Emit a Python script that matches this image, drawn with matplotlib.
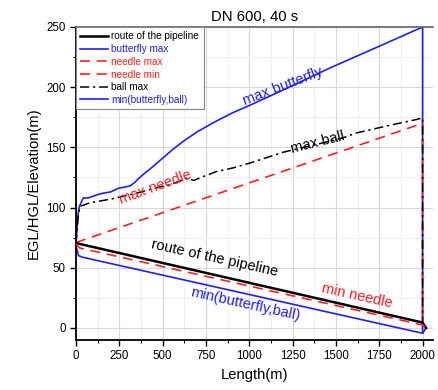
import matplotlib.pyplot as plt
import numpy as np
from matplotlib.ticker import MultipleLocator

plt.rcParams['font.family'] = ['Liberation Sans', 'DejaVu Sans']

# pipeline route (elevation)
route_x = [0, 2000, 2020]
route_y = [70.5, 4.5, 0]

# butterfly valve, max head envelope
bf_max_x = [0, 12, 20, 42, 70, 100, 130, 158, 200, 244, 280, 312, 340, 360, 400,
            427, 500, 560, 619, 700, 812, 900, 1004, 1200, 1466, 1750, 2000, 2000]
bf_max_y = [70, 95, 101, 108, 108, 109.5, 111, 112, 113, 116, 117, 118, 121, 124, 129,
            132, 141, 148.5, 155, 163, 172, 178.5, 185, 198, 216, 234, 250, -4]

# needle valve, max and min envelopes
nd_max_x = [0, 2000, 2000]
nd_max_y = [71, 170, 3]
nd_min_x = [0, 20, 2000, 2020]
nd_min_y = [70, 66.5, 2.5, 0]

# ball valve, max envelope
ball_x = [0, 12, 23, 81, 200, 350, 427, 480, 542, 600, 640, 680, 715, 812, 908,
          1004, 1196, 1389, 1542, 1619, 1800, 1927, 1960, 2000, 2000]
ball_y = [70, 92, 101, 104, 107, 112, 115, 117, 119, 122, 124.5, 122.5, 124.7, 130, 133,
          137, 146, 152.5, 158, 162, 168, 172, 173, 174.5, 4]

# min of butterfly and ball
mn_x = [0, 15, 42, 2000, 2020]
mn_y = [68, 60, 58.6, -4.4, 0]

fig = plt.figure(figsize=(4.38, 3.90), dpi=100)
ax = fig.add_axes([0.1735, 0.1282, 0.815, 0.8026])

ax.plot(route_x, route_y, color='black', lw=1.8, label='route of the pipeline', zorder=5)
ax.plot(bf_max_x, bf_max_y, color='#1f1fff', lw=1.2, label='butterfly max')
ax.plot(nd_max_x, nd_max_y, color='#ff2020', lw=1.2, ls=(0, (6, 4)), label='needle max')
ax.plot(nd_min_x, nd_min_y, color='#ff2020', lw=1.2, ls=(0, (6, 4)), label='needle min', zorder=6)
ax.plot(ball_x, ball_y, color='black', lw=1.1, ls=(0, (6, 2.5, 1.5, 2.5)), label='ball max')
ax.plot(mn_x, mn_y, color='#1f1fff', lw=1.2, label='min(butterfly,ball)')

ax.set_xlim(0, 2060)
ax.set_ylim(-10, 250)
ax.xaxis.set_major_locator(MultipleLocator(250))
ax.xaxis.set_minor_locator(MultipleLocator(125))
ax.yaxis.set_major_locator(MultipleLocator(50))
ax.yaxis.set_minor_locator(MultipleLocator(25))
ax.grid(which='major', color='#d8d8d8', lw=0.8)
ax.grid(which='minor', color='#ececec', lw=0.6)
ax.set_axisbelow(True)

ax.tick_params(which='major', direction='out', length=4, width=1, labelsize=8.3, top=False, right=False)
ax.tick_params(which='minor', direction='out', length=2.5, width=0.8, top=False, right=False)
for s in ['left', 'bottom']:
    ax.spines[s].set_linewidth(1.3)
ax.spines['top'].set_color('#666666')
ax.spines['top'].set_linewidth(1.2)
ax.spines['right'].set_visible(False)

ax.set_xlabel('Length(m)', fontsize=10.6, labelpad=4)
ax.set_ylabel('EGL/HGL/Elevation(m)', fontsize=10.6, labelpad=4)
ax.set_title('DN 600, 40 s', fontsize=10.7, pad=4)

leg = ax.legend(loc='upper left', fontsize=7.2, frameon=True, fancybox=False,
                edgecolor='#888888', framealpha=1, borderaxespad=0, handlelength=2.8,
                labelspacing=0.27, borderpad=0.45, handletextpad=0.3)
leg.get_frame().set_linewidth(0.8)
for txt, ln in zip(leg.get_texts(), leg.get_lines()):
    txt.set_color(ln.get_color())

ax.text(1194, 201, 'max butterfly', color='#1f1fff', fontsize=10.5, rotation=21,
        ha='center', va='center')
ax.text(1396, 154, 'max ball', color='black', fontsize=10.5, rotation=14,
        ha='center', va='center')
ax.text(456, 117, 'max needle', color='#ff2020', fontsize=10.5, rotation=20,
        ha='center', va='center')
ax.text(802, 58, 'route of the pipeline', color='black', fontsize=10.5, rotation=-12.5,
        ha='center', va='center')
ax.text(1621, 27, 'min needle', color='#ff2020', fontsize=10.5, rotation=-12.5,
        ha='center', va='center')
ax.text(975, 20, 'min(butterfly,ball)', color='#1f1fff', fontsize=10.5, rotation=-12.5,
        ha='center', va='center')

fig.savefig('out.png', dpi=100)
